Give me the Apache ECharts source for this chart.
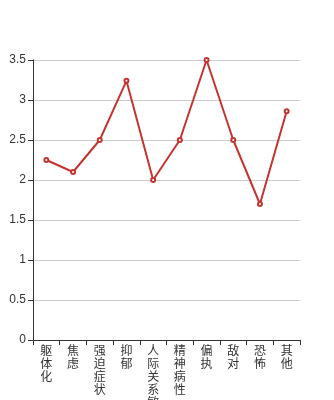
<!DOCTYPE html>
<html><head><meta charset="utf-8">
<script src="https://cdn.jsdelivr.net/npm/echarts@6/dist/echarts.min.js"></script>
<style>html,body{margin:0;padding:0;background:#fff}#c{width:334px;height:400px}</style>
</head><body><div id="c"></div>
<script>
const categories = ['躯体化','焦虑','强迫症状','抑郁','人际关系敏感','精神病性','偏执','敌对','恐怖','其他'];
const values = [2.25, 2.1, 2.5, 3.24, 2.0, 2.5, 3.5, 2.5, 1.7, 2.86];
const yTicks = {min: 0, max: 3.5, interval: 0.5};

const chart = echarts.init(document.getElementById('c'), null, {renderer: 'canvas'});
chart.setOption({
  animation: false,
  grid: {left: 33, right: 34, top: 60, bottom: 60, containLabel: false, outerBoundsMode: 'none'},
  xAxis: {
    type: 'category',
    data: categories,
    boundaryGap: true,
    axisLine: {lineStyle: {color: '#333', width: 1}},
    axisTick: {show: true, length: 5, lineStyle: {color: '#333'}},
    axisLabel: {
      interval: 0,
      margin: 4,
      color: '#333',
      fontSize: 12,
      lineHeight: 13,
      hideOverlap: false,
      fontFamily: 'Noto Sans CJK SC',
      formatter: v => v.split('').join('\n')
    }
  },
  yAxis: {
    type: 'value',
    min: yTicks.min, max: yTicks.max, interval: yTicks.interval,
    axisLine: {show: true, lineStyle: {color: '#333', width: 1}},
    axisTick: {show: true, length: 5, lineStyle: {color: '#333'}},
    splitLine: {lineStyle: {color: '#ccc'}},
    axisLabel: {color: '#333', fontSize: 12, margin: 7, fontFamily: 'Liberation Sans'}
  },
  series: [{
    type: 'line',
    data: values,
    symbol: 'emptyCircle',
    symbolSize: 4,
    itemStyle: {color: '#c23531', borderWidth: 1},
    lineStyle: {color: '#c23531', width: 2}
  }]
});
</script></body></html>
